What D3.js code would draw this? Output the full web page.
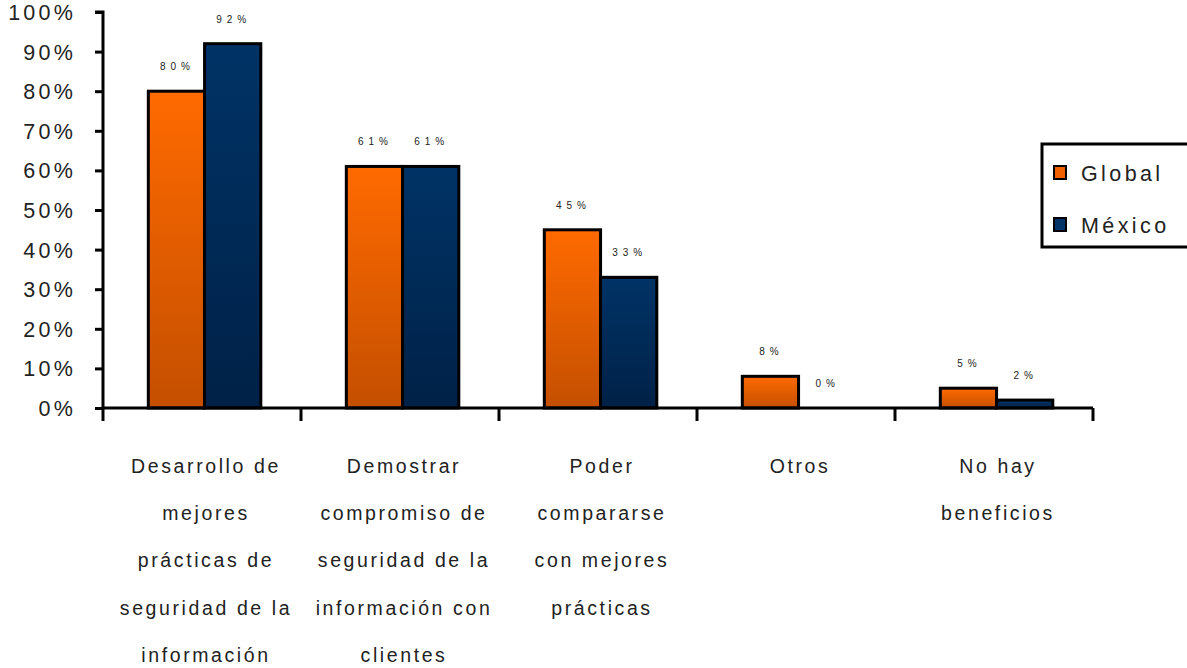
<!DOCTYPE html>
<html>
<head>
<meta charset="utf-8">
<script src="https://cdn.jsdelivr.net/npm/d3@7"></script>
<style>
  html, body { margin: 0; padding: 0; background: #fff; }
  svg { display: block; font-family: "Liberation Sans", Arial, sans-serif; }
</style>
</head>
<body>
<svg id="chart" width="1187" height="668"></svg>
<script>
// Benefit categories (each label is split into its printed lines)
const categories = [
  ["Desarrollo de", "mejores", "prácticas de", "seguridad de la", "información"],
  ["Demostrar", "compromiso de", "seguridad de la", "información con", "clientes"],
  ["Poder", "compararse", "con mejores", "prácticas"],
  ["Otros"],
  ["No hay", "beneficios"]
];
const seriesNames = ["Global", "México"];
const globalValues = [80, 61, 45, 8, 5];
const mexicoValues = [92, 61, 33, 0, 2];
const yTicks = [0, 10, 20, 30, 40, 50, 60, 70, 80, 90, 100];

const catKeys = categories.map(c => c.join(" "));
const seriesValues = [globalValues, mexicoValues];

const svg = d3.select("#chart");
const plotLeft = 103, plotRight = 1093, plotTop = 12, plotBottom = 408;

const x = d3.scaleBand().domain(catKeys).range([plotLeft, plotRight]).padding(0);
const x1 = d3.scaleBand().domain(seriesNames).range([0, x.bandwidth()])
  .paddingInner(0).paddingOuter(0.76).align(0.53);
const y = d3.scaleLinear().domain([0, 100]).range([plotBottom, plotTop]);

// Vertical gradients for the bar fills
const defs = svg.append("defs");
const grads = [
  { id: "gGlobal", c0: "#ff6a00", c1: "#c44f00" },
  { id: "gMexico", c0: "#003366", c1: "#002147" }
];
grads.forEach(g => {
  const lg = defs.append("linearGradient").attr("id", g.id)
    .attr("x1", 0).attr("y1", 0).attr("x2", 0).attr("y2", 1);
  lg.append("stop").attr("offset", "0%").attr("stop-color", g.c0);
  lg.append("stop").attr("offset", "100%").attr("stop-color", g.c1);
});
const fills = { "Global": "url(#gGlobal)", "México": "url(#gMexico)" };
const swatch = { "Global": "#f26200", "México": "#003366" };

// Bars
const rows = [];
catKeys.forEach((c, i) => seriesNames.forEach((s, j) => rows.push({ cat: c, series: s, value: seriesValues[j][i] })));

svg.append("g").selectAll("rect.bar")
  .data(rows.filter(d => d.value > 0))
  .join("rect")
  .attr("class", "bar")
  .attr("x", d => x(d.cat) + x1(d.series))
  .attr("y", d => y(d.value))
  .attr("width", x1.bandwidth())
  .attr("height", d => y(0) - y(d.value))
  .attr("fill", d => fills[d.series])
  .attr("stroke", "#000")
  .attr("stroke-width", 3);

// Value labels above each bar
svg.append("g").selectAll("text")
  .data(rows)
  .join("text")
  .attr("x", d => x(d.cat) + x1(d.series) + x1.bandwidth() / 2 + 1)
  .attr("y", d => y(d.value) - 21)
  .attr("text-anchor", "middle")
  .attr("font-size", 10)
  .attr("letter-spacing", 5)
  .attr("fill", "#222")
  .text(d => d.value + "%");

// Y axis
const yAxis = d3.axisLeft(y).tickValues(yTicks).tickSize(8).tickFormat(d => d + "%");
const gy = svg.append("g").attr("transform", `translate(${plotLeft},0)`).call(yAxis);
gy.select(".domain").attr("stroke", "#000").attr("stroke-width", 3).attr("d", `M-8,${plotTop}H0V${plotBottom}`);
gy.selectAll(".tick line").attr("stroke", "#000").attr("stroke-width", 3);
gy.selectAll(".tick text")
  .attr("x", -27)
  .attr("dy", "0.35em")
  .attr("font-size", 21.5)
  .attr("letter-spacing", 3.2)
  .attr("fill", "#222")
  .attr("font-family", "'Liberation Sans', Arial, sans-serif");

// X axis line with ticks at category boundaries
const boundaries = catKeys.map(c => x(c)).concat([plotRight]);
const gx = svg.append("g");
gx.append("line").attr("x1", plotLeft).attr("x2", plotRight).attr("y1", plotBottom).attr("y2", plotBottom)
  .attr("stroke", "#000").attr("stroke-width", 3);
gx.selectAll("line.tk").data(boundaries).join("line").attr("class", "tk")
  .attr("x1", d => d).attr("x2", d => d).attr("y1", plotBottom).attr("y2", plotBottom + 13)
  .attr("stroke", "#000").attr("stroke-width", 3);

// Category labels
const labelG = svg.append("g");
categories.forEach((lines, i) => {
  const cx = x(catKeys[i]) + x.bandwidth() / 2 + 4;
  const t = labelG.append("text")
    .attr("text-anchor", "middle")
    .attr("font-size", 19.5)
    .attr("letter-spacing", 2.6)
    .attr("fill", "#222");
  lines.forEach((ln, k) => {
    t.append("tspan").attr("x", cx).attr("y", 473 + k * 47.2).text(ln);
  });
});

// Legend
const lg = svg.append("g");
lg.append("rect").attr("x", 1042).attr("y", 144).attr("width", 160).attr("height", 103)
  .attr("fill", "#fff").attr("stroke", "#000").attr("stroke-width", 3);
seriesNames.forEach((s, i) => {
  const yy = 173 + i * 52;
  lg.append("rect").attr("x", 1054).attr("y", yy - 7).attr("width", 12).attr("height", 13)
    .attr("fill", swatch[s]).attr("stroke", "#000").attr("stroke-width", 2);
  lg.append("text").attr("x", 1081).attr("y", yy + 8)
    .attr("font-size", 21.5).attr("letter-spacing", 3.4).attr("fill", "#222").text(s);
});
</script>
</body>
</html>
